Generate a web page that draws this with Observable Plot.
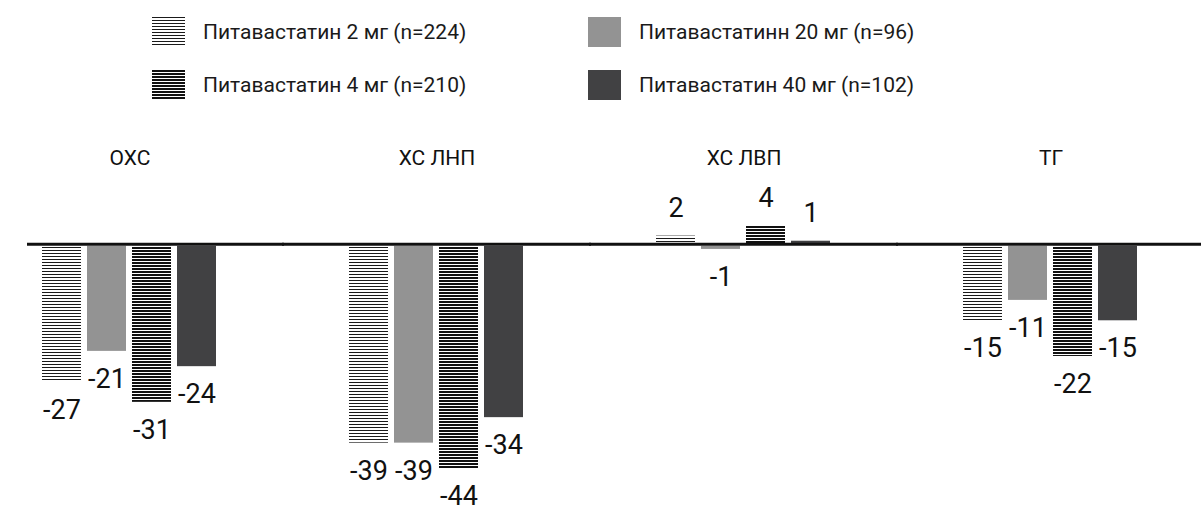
<!DOCTYPE html>
<html><head><meta charset="utf-8">
<script src="https://cdn.jsdelivr.net/npm/d3@7"></script>
<script src="https://cdn.jsdelivr.net/npm/@observablehq/plot@0.6"></script>
<style>
body{margin:0;background:#fff;font-family:Roboto,"Liberation Sans",sans-serif;}
#wrap{position:relative;width:1201px;height:514px;overflow:hidden;background:#fff;}
#legend{position:absolute;left:152px;top:17px;width:872px;}
#legend [class*="-swatches"]{font-family:Roboto,"Liberation Sans",sans-serif;font-size:21px;color:#1a1a1a;column-gap:0;margin:0;}
#legend [class$="-swatch"]{height:30px;margin:0 0 23px 0;padding:0;font-size:21px;}
#legend [class$="-swatch"] svg{margin-right:18px;}
#chart{position:absolute;left:0;top:115px;}
</style>
</head><body>
<div id="wrap"><div id="legend"></div><div id="chart"></div></div>
<script>
const groups = ["ОХС", "ХС ЛНП", "ХС ЛВП", "ТГ"];
const series = ["Питавастатин 2 мг (n=224)", "Питавастатинн 20 мг (n=96)", "Питавастатин 4 мг (n=210)", "Питавастатин 40 мг (n=102)"];
const values2mg = [-27, -39, 2, -15];
const values20mg = [-21, -39, -1, -11];
const values4mg = [-31, -44, 4, -22];
const values40mg = [-24, -34, 1, -15];

const legendOrder = [series[0], series[2], series[1], series[3]];
const fills = ["url(#pat2)", "url(#pat4)", "#939393", "#414143"];
const FONT = 'Roboto,"Liberation Sans",sans-serif';

const allValues = [values2mg, values20mg, values4mg, values40mg];
const data = groups.flatMap((g, i) => series.map((s, j) => ({group: g, series: s, value: allValues[j][i]})));

const chart = Plot.plot({
  width: 1201, height: 399,
  marginTop: 60, marginBottom: 0, marginLeft: 33, marginRight: 54,
  fx: {domain: groups, paddingInner: 0.383, paddingOuter: 0, axis: null},
  x: {domain: series, padding: 0.13, axis: null},
  y: {domain: [-53, 13.5], axis: null},
  color: {domain: legendOrder, range: fills},
  style: {fontFamily: FONT, background: "transparent", color: "#111"},
  marks: [
    Plot.barY(data, {fx: "group", x: "series", y: "value", fill: "series", insetTop: 2}),
    Plot.ruleY(groups.slice(0, 1), {fx: d => d, y: 0, stroke: "#111", strokeWidth: 3, insetLeft: -8, insetRight: -60}),
    Plot.ruleY(groups.slice(1), {fx: d => d, y: 0, stroke: "#111", strokeWidth: 3, insetLeft: -60, insetRight: -60}),
    Plot.text(data.filter(d => d.value < 0), {fx: "group", x: "series", y: "value", text: d => String(d.value), dy: 28, fontSize: 27, lineAnchor: "middle", fill: "#111"}),
    Plot.text(data.filter(d => d.value > 0), {fx: "group", x: "series", y: "value", text: d => String(d.value), dy: -26, fontSize: 27, lineAnchor: "middle", fill: "#111"}),
    Plot.text(groups, {fx: d => d, text: d => d, frameAnchor: "top", dy: -17, fontSize: 21, lineAnchor: "middle", fill: "#111"})
  ]
});

const defs = d3.select(chart).insert("defs", ":first-child");
const p2 = defs.append("pattern").attr("id", "pat2").attr("patternUnits", "userSpaceOnUse").attr("width", 6).attr("height", 3);
p2.append("rect").attr("width", 6).attr("height", 3).attr("fill", "#fff");
p2.append("rect").attr("width", 6).attr("height", 1).attr("fill", "#1a1a1a");
const p4 = defs.append("pattern").attr("id", "pat4").attr("patternUnits", "userSpaceOnUse").attr("width", 6).attr("height", 3);
p4.append("rect").attr("width", 6).attr("height", 3).attr("fill", "#fff");
p4.append("rect").attr("width", 6).attr("height", 2).attr("fill", "#111");

document.getElementById("chart").appendChild(chart);
const legend = chart.legend("color", {columns: 2, swatchWidth: 33, swatchHeight: 30, style: {fontFamily: FONT, fontSize: "21px"}});
document.getElementById("legend").appendChild(legend);
</script>
</body></html>
